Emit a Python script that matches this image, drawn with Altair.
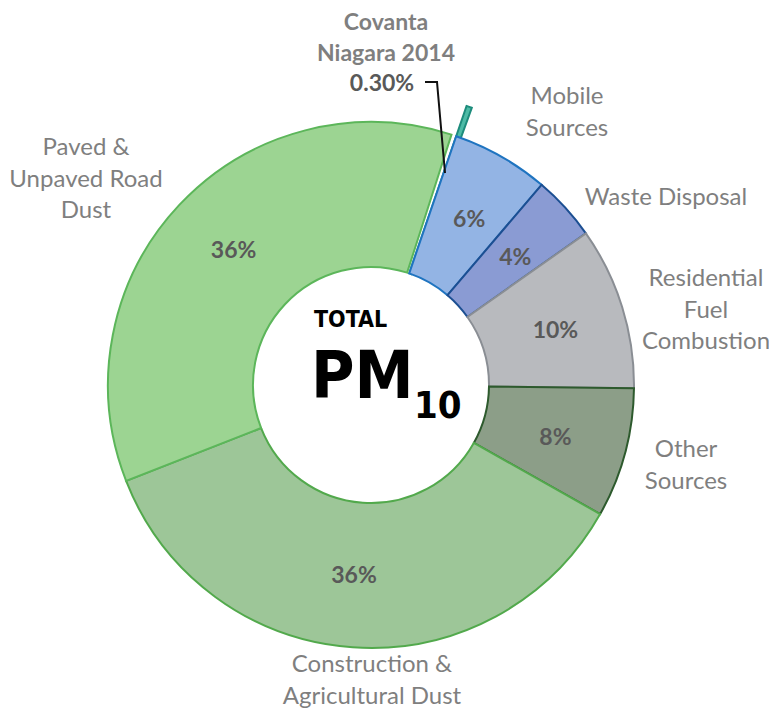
import math
import altair as alt
import pandas as pd

# ---------------- data ----------------
SOURCES = [
    "Covanta Niagara 2014",
    "Mobile Sources",
    "Waste Disposal",
    "Residential Fuel Combustion",
    "Other Sources",
    "Construction & Agricultural Dust",
    "Paved & Unpaved Road Dust",
]
VALUES = [0.3, 6, 4, 10, 8, 36, 36]
LABEL_TEXT = [
    "Covanta\nNiagara 2014",
    "Mobile\nSources",
    "Waste Disposal",
    "Residential\nFuel\nCombustion",
    "Other\nSources",
    "Construction &\nAgricultural Dust",
    "Paved &\nUnpaved Road\nDust",
]
CENTER_TEXT = ["TOTAL", "PM", "10"]

# ---------------- styles / layout ----------------
FILLS = ["#4dbba6", "#93b4e4", "#8a9bd3", "#b8babe", "#8c9e88", "#9dc698", "#9cd492"]
STROKES = ["#1d8c7c", "#1f74c0", "#1c4f92", "#8a8e94", "#2d5a2d", "#52a94c", "#5cb65a"]

CX, CY = 363, 377          # donut centre (chart coords)
R_IN, R_OUT, R_HL = 118, 263, 295
START = math.radians(18.9)
TOTAL = sum(VALUES)

# label anchor positions (chart coords, first line), index-aligned with SOURCES
LABEL_X = [378, 559, 658, 698, 678, 364, 78]
LABEL_Y = [15, 89, 190, 271, 442, 657, 140]

FONT = "Lato"
GREY = "#7f7f7f"
DARK = "#595959"

df = pd.DataFrame({
    "idx": list(range(len(SOURCES))),
    "source": SOURCES,
    "value": VALUES,
    "fill": FILLS,
    "stroke": STROKES,
})

theta = alt.Theta(
    "value:Q",
    stack=True,
    scale=alt.Scale(domain=[0, TOTAL], range=[START, START + 2 * math.pi]),
)

arcs = (
    alt.Chart(df)
    .transform_calculate(r_out=f"datum.idx == 0 ? {R_HL} : {R_OUT}")
    .mark_arc(innerRadius=R_IN, strokeWidth=2)
    .encode(
        theta=theta,
        radius=alt.Radius("r_out:Q", scale=None),
        fill=alt.Fill("fill:N", scale=None),
        stroke=alt.Stroke("stroke:N", scale=None),
        detail="source:N",
        order=alt.Order("idx:Q", sort="ascending"),
        x=alt.value(CX),
        y=alt.value(CY),
    )
)

pct = (
    alt.Chart(df)
    .transform_calculate(lbl="datum.idx == 0 ? '' : datum.value + '%'")
    .mark_text(radius=192, font=FONT, fontSize=23, fontWeight="bold", color=DARK)
    .encode(
        theta=theta,
        text="lbl:N",
        detail="source:N",
        order=alt.Order("idx:Q", sort="ascending"),
        x=alt.value(CX),
        y=alt.value(CY),
    )
)

lab_df = pd.DataFrame({
    "idx": list(range(len(SOURCES))),
    "text": LABEL_TEXT,
    "x": LABEL_X,
    "y": LABEL_Y,
})

outer_labels = (
    alt.Chart(lab_df)
    .transform_filter("datum.idx > 0")
    .mark_text(font=FONT, fontSize=24, color=GREY, lineBreak="\n", lineHeight=31.5,
               align="center", baseline="middle")
    .encode(
        x=alt.X("x:Q", scale=None, axis=None),
        y=alt.Y("y:Q", scale=None, axis=None),
        text="text:N",
    )
)

covanta_label = (
    alt.Chart(lab_df)
    .transform_filter("datum.idx == 0")
    .mark_text(font=FONT, fontSize=23, fontWeight="bold", color=GREY, lineBreak="\n",
               lineHeight=31, align="center", baseline="middle")
    .encode(
        x=alt.X("x:Q", scale=None, axis=None),
        y=alt.Y("y:Q", scale=None, axis=None),
        text="text:N",
    )
)

covanta_pct = (
    alt.Chart(df)
    .transform_filter("datum.idx == 0")
    .transform_calculate(lbl="format(datum.value / 100, '.2%')")
    .mark_text(font=FONT, fontSize=23, fontWeight="bold", color=DARK,
               align="center", baseline="middle")
    .encode(x=alt.value(374), y=alt.value(76), text="lbl:N")
)

leader_df = pd.DataFrame({"o": [0, 1, 2], "x": [417, 429, 437], "y": [74, 74, 165]})
leader = (
    alt.Chart(leader_df)
    .mark_line(color="#111111", strokeWidth=2)
    .encode(
        x=alt.X("x:Q", scale=None, axis=None),
        y=alt.Y("y:Q", scale=None, axis=None),
        order="o:Q",
    )
)

ctr_df = pd.DataFrame({"t": CENTER_TEXT})
CFONT = "DejaVu Sans Condensed"
total_t = (
    alt.Chart(ctr_df).transform_filter(alt.datum.t == "TOTAL")
    .mark_text(font=CFONT, fontSize=23, fontWeight="bold", color="#000000",
               align="left", baseline="alphabetic")
    .encode(x=alt.value(306), y=alt.value(319), text="t:N")
)
pm_t = (
    alt.Chart(ctr_df).transform_filter(alt.datum.t == "PM")
    .mark_text(font=CFONT, fontSize=66, fontWeight="bold", color="#000000",
               align="left", baseline="alphabetic")
    .encode(x=alt.value(303), y=alt.value(390), text="t:N")
)
ten_t = (
    alt.Chart(ctr_df).transform_filter(alt.datum.t == "10")
    .mark_text(font=CFONT, fontSize=38, fontWeight="bold", color="#000000",
               align="left", baseline="alphabetic")
    .encode(x=alt.value(406), y=alt.value(410), text="t:N")
)

chart = (
    alt.layer(arcs, pct, outer_labels, covanta_label, covanta_pct, leader, total_t, pm_t, ten_t)
    .properties(width=761, height=701, autosize=alt.AutoSizeParams(type="none"), padding=0,
                background="white")
    .configure_view(stroke=None)
)

chart.save("out.html", embed_options={"renderer": "svg", "actions": False})
